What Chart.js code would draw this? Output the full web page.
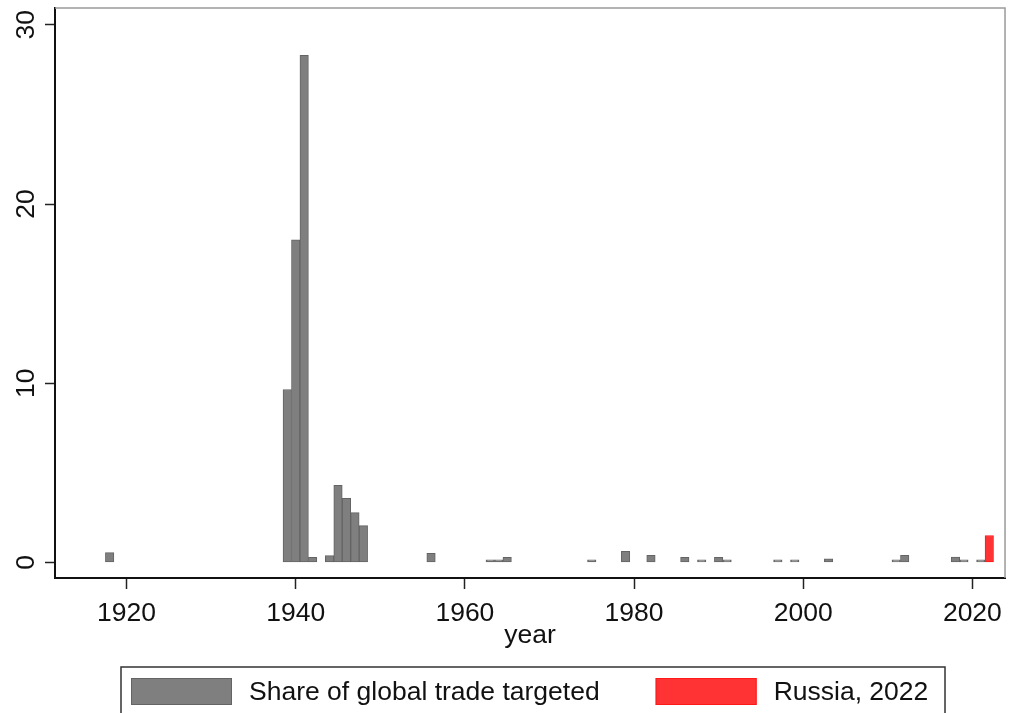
<!DOCTYPE html>
<html>
<head>
<meta charset="utf-8">
<script src="https://cdn.jsdelivr.net/npm/chart.js@4"></script>
<style>
  html, body { margin: 0; padding: 0; background: #fff; }
  canvas { display: block; }
</style>
</head>
<body>
<canvas id="chart" width="1011" height="713"></canvas>
<script>
// sanction episodes: share of global trade targeted, by year
const years = [1918, 1939, 1940, 1941, 1942, 1944, 1945, 1946, 1947, 1948, 1956, 1963, 1964, 1965, 1975, 1979,
  1982, 1986, 1988, 1990, 1991, 1997, 1999, 2003, 2011, 2012, 2018, 2019, 2021]
const shareTargeted = [0.55, 9.65, 18.0, 28.3, 0.28, 0.38, 4.3, 3.58, 2.78, 2.05, 0.5, 0.15, 0.15, 0.28, 0.15, 0.62,
  0.4, 0.28, 0.14, 0.28, 0.14, 0.14, 0.14, 0.2, 0.14, 0.4, 0.3, 0.14, 0.14]
const russiaYears = [2022]
const russiaShare = [1.5]

const yTicks = [0, 10, 20, 30]
const xTicks = [1920, 1940, 1960, 1980, 2000, 2020]

const FONT = '"Liberation Sans", Arial, sans-serif'
const GRAY = '#7f7f7f'
const GRAY_EDGE = '#646464'
const RED = '#ff3333'
const RED_EDGE = '#ff1a1a'

function toPoints (xs, ys) {
  return xs.map((x, i) => ({ x, y: ys[i] }))
}

// plot region outline, rotated y labels and boxed legend
const stataDecor = {
  id: 'stataDecor',
  beforeDatasetsDraw (chart) {
    const { ctx, chartArea: a } = chart
    ctx.save()
    ctx.strokeStyle = '#9a9a9a'
    ctx.lineWidth = 1.5
    ctx.beginPath()
    ctx.moveTo(a.left, a.top)
    ctx.lineTo(a.right, a.top)
    ctx.lineTo(a.right, a.bottom)
    ctx.stroke()
    ctx.restore()
  },
  afterDraw (chart) {
    const { ctx } = chart
    const yScale = chart.scales.y
    ctx.save()
    ctx.fillStyle = '#111'
    ctx.font = '26.5px ' + FONT
    ctx.textAlign = 'center'
    ctx.textBaseline = 'alphabetic'
    for (const v of yTicks) {
      const py = yScale.getPixelForValue(v)
      ctx.save()
      ctx.translate(34, py)
      ctx.rotate(-Math.PI / 2)
      ctx.fillText(String(v), 0, 0)
      ctx.restore()
    }

    // legend box
    ctx.strokeStyle = '#333'
    ctx.lineWidth = 1.5
    ctx.strokeRect(121, 667, 824, 80)
    let x = 131
    for (const ds of chart.data.datasets) {
      ctx.fillStyle = ds.backgroundColor
      ctx.fillRect(x, 678, 101, 27)
      ctx.strokeStyle = ds.borderColor
      ctx.lineWidth = 1
      ctx.strokeRect(x + 0.5, 678.5, 100, 26)
      x += 118
      ctx.fillStyle = '#111'
      ctx.textAlign = 'left'
      ctx.fillText(ds.label, x, 700)
      x += ctx.measureText(ds.label).width + 56
    }
    ctx.restore()
  }
}

const axisGrid = (len) => ({
  offset: false,
  drawOnChartArea: false,
  drawTicks: true,
  tickLength: len,
  tickColor: '#222',
  tickWidth: 1.5
})

new Chart(document.getElementById('chart'), {
  type: 'bar',
  data: {
    datasets: [
      {
        label: 'Share of global trade targeted',
        data: toPoints(years, shareTargeted),
        backgroundColor: GRAY,
        borderColor: GRAY_EDGE,
        borderWidth: 1,
        borderSkipped: false
      },
      {
        label: 'Russia, 2022',
        data: toPoints(russiaYears, russiaShare),
        backgroundColor: RED,
        borderColor: RED_EDGE,
        borderWidth: 1,
        borderSkipped: false
      }
    ]
  },
  options: {
    responsive: false,
    animation: false,
    grouped: false,
    barPercentage: 1,
    categoryPercentage: 1,
    layout: { padding: { top: 8, right: 4.5, left: 0, bottom: 0 } },
    plugins: {
      legend: { display: false },
      tooltip: { enabled: false }
    },
    scales: {
      x: {
        type: 'linear',
        offset: false,
        min: 1911.54,
        max: 2023.86,
        afterFit (scale) { scale.height = 135 },
        afterBuildTicks (scale) { scale.ticks = xTicks.map(value => ({ value })) },
        ticks: {
          autoSkip: false,
          maxRotation: 0,
          padding: 9,
          color: '#111',
          font: { family: FONT, size: 26.5 },
          callback: (value) => String(value)
        },
        grid: axisGrid(11),
        border: { display: true, color: '#111', width: 2 },
        title: {
          display: true,
          text: 'year',
          color: '#111',
          font: { family: FONT, size: 26.5 },
          padding: { top: 0, bottom: 61 }
        }
      },
      y: {
        min: -0.87,
        max: 30.94,
        afterFit (scale) { scale.width = 55 },
        afterBuildTicks (scale) { scale.ticks = yTicks.map(value => ({ value })) },
        ticks: { display: false },
        grid: axisGrid(10),
        border: { display: true, color: '#111', width: 2 }
      }
    }
  },
  plugins: [stataDecor]
})
</script>
</body>
</html>
